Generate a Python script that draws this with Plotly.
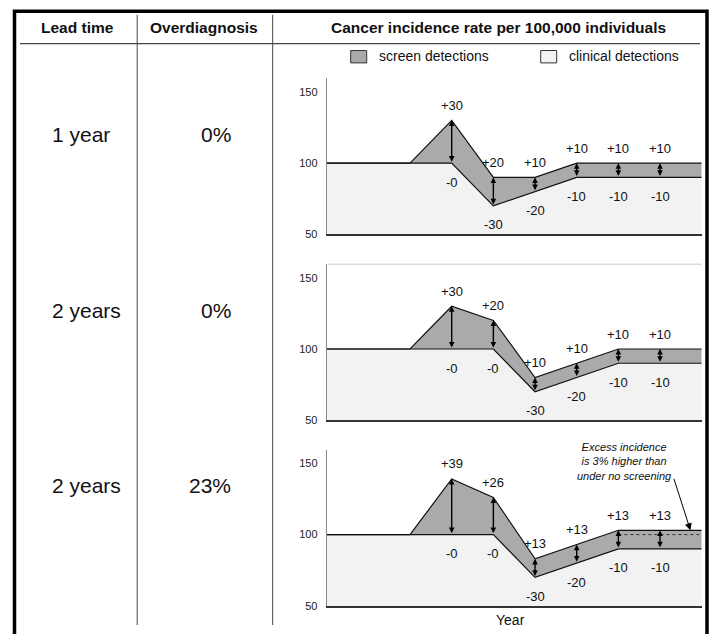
import plotly.graph_objects as go

# ---------------- data ----------------
years = [-2, 0, 1, 2, 3, 4, 5, 6, 7]          # year positions of the polyline vertices
label_years = [1, 2, 3, 4, 5, 6]              # years carrying arrows and value labels

total_1 = [100, 100, 130, 90, 90, 100, 100, 100, 100]
clinical_1 = [100, 100, 100, 70, 80, 90, 90, 90, 90]

total_2 = [100, 100, 130, 120, 80, 90, 100, 100, 100]
clinical_2 = [100, 100, 100, 100, 70, 80, 90, 90, 90]

total_3 = [100, 100, 139, 126, 83, 93, 103, 103, 103]
clinical_3 = [100, 100, 100, 100, 70, 80, 90, 90, 90]

no_screen_years = [5, 7]
no_screen_level = [100, 100]

baseline = 100
lead_times = ["1 year", "2 years", "2 years"]
overdiagnosis = ["0%", "0%", "23%"]
y_ticks = [50, 100, 150]
y_range = [50, 159.5]
x_range = [-2, 7]

headers = ["Lead time", "Overdiagnosis", "Cancer incidence rate per 100,000 individuals"]
legend_names = ["screen detections", "clinical detections"]
excess_note = ["Excess incidence", "is 3% higher than", "under no screening"]

# ---------------- style ----------------
W, H = 713, 634
FONT = "Liberation Sans, Arial, Helvetica, sans-serif"
SCREEN_FILL = "#aaaaaa"
CLIN_FILL = "#f2f2f2"
LINE = "#111111"


def px(x):
    return x / W


def py(y):
    return 1 - y / H


panel_tops = [79, 266.7, 454]
panel_bottoms = [236.7, 424.3, 611.7]
plot_left, plot_right = 326.7, 701.7

panels = [(total_1, clinical_1), (total_2, clinical_2), (total_3, clinical_3)]

fig = go.Figure()
annotations = []
shapes = []
layout_axes = {}

for i, (tot, clin) in enumerate(panels):
    sfx = "" if i == 0 else str(i + 1)
    xa, ya = "x" + sfx, "y" + sfx
    fig.add_trace(go.Scatter(x=years, y=clin, mode="lines", fill="tozeroy",
                             fillcolor=CLIN_FILL, line=dict(color=LINE, width=1.2),
                             xaxis=xa, yaxis=ya, hoverinfo="skip"))
    fig.add_trace(go.Scatter(x=years, y=tot, mode="lines", fill="tonexty",
                             fillcolor=SCREEN_FILL, line=dict(color=LINE, width=1.2),
                             xaxis=xa, yaxis=ya, hoverinfo="skip"))
    layout_axes["xaxis" + sfx] = dict(domain=[px(plot_left), px(plot_right)], range=x_range,
                                      anchor=ya, showgrid=False, zeroline=False,
                                      showticklabels=False, ticks="", showline=True,
                                      linecolor="#333333", linewidth=1.5, fixedrange=True)
    layout_axes["yaxis" + sfx] = dict(domain=[py(panel_bottoms[i]), py(panel_tops[i])],
                                      range=y_range, anchor=xa, showgrid=False,
                                      zeroline=False, tickvals=y_ticks, ticks="",
                                      ticklabelstandoff=6,
                                      tickfont=dict(family=FONT, size=11, color="#222222"),
                                      showline=True, linecolor="#888888", linewidth=1,
                                      fixedrange=True)
    # arrows and value labels
    for yr in label_years:
        k = years.index(yr)
        t, c = tot[k], clin[k]
        annotations.append(dict(x=yr, y=t, ax=yr, ay=c, xref=xa, yref=ya, axref=xa, ayref=ya,
                                text="", showarrow=True, arrowhead=2, arrowside="end+start",
                                arrowsize=0.8, arrowwidth=1.4, arrowcolor="#000000",
                                standoff=0, startstandoff=0))
        annotations.append(dict(x=yr, y=t, xref=xa, yref=ya, text="+%d" % (t - c),
                                showarrow=False, yshift=15,
                                font=dict(family=FONT, size=13, color="#111111")))
        annotations.append(dict(x=yr, y=c, xref=xa, yref=ya, text="-%d" % abs(c - baseline),
                                showarrow=False, yshift=-19,
                                font=dict(family=FONT, size=13, color="#111111")))
    # row labels
    row_y = [136, 313, 490][i]
    annotations.append(dict(x=px(50), y=py(row_y), xref="paper", yref="paper",
                            text=lead_times[i], showarrow=False, xanchor="left",
                            yanchor="middle", font=dict(family=FONT, size=21, color="#111111")))
    annotations.append(dict(x=px(233), y=py(row_y), xref="paper", yref="paper",
                            text=overdiagnosis[i], showarrow=False, xanchor="right",
                            yanchor="middle", font=dict(family=FONT, size=21, color="#111111")))

# no-screening reference level in panel 3
fig.add_trace(go.Scatter(x=no_screen_years, y=no_screen_level, mode="lines",
                         line=dict(color="#333333", width=1, dash="dot"),
                         xaxis="x3", yaxis="y3", hoverinfo="skip"))

# note in panel 3
annotations.append(dict(x=px(624), y=py(465.5), xref="paper", yref="paper",
                        text="<br>".join("<i>%s</i>" % t for t in excess_note),
                        showarrow=False, xanchor="center", yanchor="middle",
                        font=dict(family=FONT, size=11, color="#111111")))
annotations.append(dict(x=6.73, y=total_3[-1], xref="x3", yref="y3", text="", showarrow=True,
                        ax=-17, ay=-53, arrowhead=2, arrowsize=1.4, arrowwidth=1,
                        arrowcolor="#000000", standoff=0))

# header texts
for txt, xc in zip(headers, [77.5, 204, 498]):
    annotations.append(dict(x=px(xc), y=py(28), xref="paper", yref="paper",
                            text="<b>%s</b>" % txt, showarrow=False, xanchor="center",
                            yanchor="middle", font=dict(family=FONT, size=15.5, color="#111111")))

# legend
for name, x0, col in zip(legend_names, [350.7, 540.7], [SCREEN_FILL, CLIN_FILL]):
    shapes.append(dict(type="rect", xref="paper", yref="paper", x0=px(x0), x1=px(x0 + 16),
                       y0=py(63.5), y1=py(51), fillcolor=col, line=dict(color="#333333", width=1)))
    annotations.append(dict(x=px(x0 + 26), y=py(57), xref="paper", yref="paper", text=name,
                            showarrow=False, xanchor="left", yanchor="middle",
                            font=dict(family=FONT, size=14, color="#111111")))

# x title
annotations.append(dict(x=px(511), y=py(626), xref="paper", yref="paper", text="Year",
                        showarrow=False, xanchor="center", yanchor="middle",
                        font=dict(family=FONT, size=14, color="#111111")))

# table frame
shapes.append(dict(type="rect", xref="paper", yref="paper", x0=px(14.5), x1=px(707),
                   y0=py(660), y1=py(11.3), line=dict(color="#000000", width=3.5)))
shapes.append(dict(type="line", xref="paper", yref="paper", x0=px(20), x1=px(700),
                   y0=py(44), y1=py(44), line=dict(color="#444444", width=1.2)))
for xd in [137.2, 272.7]:
    shapes.append(dict(type="line", xref="paper", yref="paper", x0=px(xd), x1=px(xd),
                       y0=py(15), y1=py(631), line=dict(color="#444444", width=1)))
# top border of the middle panel
shapes.append(dict(type="line", xref="x2 domain", yref="y2 domain", x0=0, x1=1, y0=1, y1=1,
                   line=dict(color="#cccccc", width=1)))

fig.update_layout(width=W, height=H, margin=dict(l=0, r=0, t=0, b=0),
                  paper_bgcolor="white", plot_bgcolor="white", showlegend=False,
                  annotations=annotations, shapes=shapes, **layout_axes)

fig.write_html("out.html", config={"displayModeBar": False},
               post_script="document.body.style.margin='0px';")
